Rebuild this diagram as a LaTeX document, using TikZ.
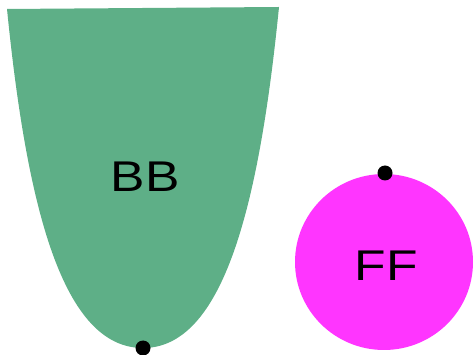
\documentclass[tikz,border=0pt]{standalone}
\usepackage{fontspec}
\setmainfont{Liberation Sans}
\definecolor{bbgreen}{RGB}{94,175,135}
\definecolor{ffmag}{RGB}{255,53,255}
\begin{document}
\begin{tikzpicture}[x=1pt,y=-1pt,
  dotmark/.style={circle,fill=black,inner sep=0pt,minimum size=15pt},
  lbl/.style={font=\fontsize{43}{43}\selectfont,xscale=1.2,inner sep=0pt}]
\useasboundingbox (0,0) rectangle (474,355);
\fill[bbgreen] (7,9) .. controls (27,209) and (63,348) .. (143,348)
  .. controls (223,348) and (259,207) .. (279,7) -- cycle;
\fill[ffmag] (384,262) ellipse [x radius=89, y radius=88];
\node[lbl] (bb) at (145,177) {BB};
\node[lbl] (ff) at (386,266) {FF};
\node[dotmark] (d1) at (143,348) {};
\node[dotmark] (d2) at (385,173) {};
\end{tikzpicture}
\end{document}
